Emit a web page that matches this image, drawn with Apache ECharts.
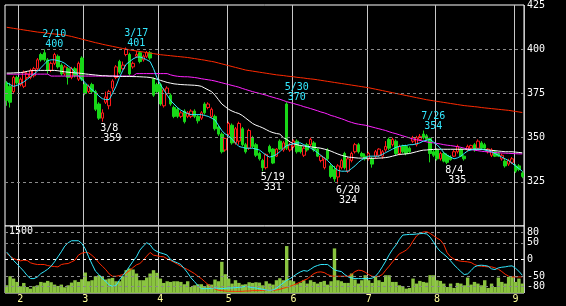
<!DOCTYPE html>
<html><head><meta charset="utf-8">
<script src="https://cdn.jsdelivr.net/npm/echarts@6/dist/echarts.min.js"></script>
<style>html,body{margin:0;padding:0;background:#000;}#c{width:566px;height:306px;}</style>
</head><body><div id="c"></div>
<script>
// trading days per month (2011, Tokyo calendar)
const monthDays = [
  [1, [26,27,28,31]],
  [2, [1,2,3,4,7,8,9,10,14,15,16,17,18,21,22,23,24,25,28]],
  [3, [1,2,3,4,7,8,9,10,11,14,15,16,17,18,22,23,24,25,28,29,30,31]],
  [4, [1,4,5,6,7,8,11,12,13,14,15,18,19,20,21,22,25,26,27,28]],
  [5, [2,6,9,10,11,12,13,16,17,18,19,20,23,24,25,26,27,30,31]],
  [6, [1,2,3,6,7,8,9,10,13,14,15,16,17,20,21,22,23,24,27,28,29,30]],
  [7, [1,4,5,6,7,8,11,12,13,14,15,19,20,21,22,25,26,27,28,29]],
  [8, [1,2,3,4,5,8,9,10,11,12,15,16,17,18,19,22,23,24,25,26,29,30,31]],
  [9, [1,2,5]]
];
// [open, close, low, high]
const ohlc = [
 [381,371,368,382],[379,370,367,381],[376,384,375,385],[384,381,380,385],[380,383,379,384],
 [379,387,378,388],[384,386,383,387],[384,388,383,389],[385,389,384,390],[389,394,388,395],
 [397,394,393,398],[398,394,393,400],[394,388,386,395],[388,392,387,393],[392,397,391,398],
 [396,390,389,397],[391,386,385,392],[386,390,385,391],[389,384,380,390],[384,389,383,390],
 [389,385,384,390],[383,392,382,393],[395,383,382,396],[380,375,374,381],[376,379,375,380],
 [380,376,375,381],[376,366,365,377],[369,361,360,370],[361,364,359,366],[370,373,369,376],
 [368,376,366,377],[378,382,376,383],[384,390,383,391],[393,387,386,394],[389,391,388,393],
 [397,400,396,401],[397,386,385,398],[390,392,389,393],[396,397,395,399],[398,393,392,399],
 [394,396,393,397],[396,398,395,399],[398,395,394,399],[383,374,373,384],[380,376,375,381],
 [380,369,368,381],[368,377,367,378],[375,378,374,379],[374,369,368,375],[367,362,361,368],
 [366,362,361,367],[362,364,361,365],[365,359,358,366],[362,364,361,365],[362,365,361,366],
 [365,362,361,366],[362,359.5,358,363],[361,364,360,365],[369,364,363,370],[367,369,366,370],
 [362,366,361,367],[362,355,354,363],[356,352,351,357],[352,342,341,353],[343,349.5,342,350],
 [352,358,351,359],[357,347,346,358],[347,355,346,356],[348,358,346,359],[355,346,345,356],
 [346,342,341,347],[344,354,343,355],[350,345,344,351],[346,340,339,347],[341,338,337,342],
 [337,333,331,338],[333,340.5,332,341],[345,342,341,346],[343.5,335.6,335,344],[339.5,343.5,339,344],
 [348,343.5,343,349],[343,347,342,348],[369,344,343,370],[343,346,342,347],[345,348,344,349],
 [348,342,341,349],[345,342,341,346],[340,344,339,345],[346,343,342,347],[346,349,345,350],
 [347,343,342,348],[343.5,339.5,339,344],[337,339.5,336,340],[333,338,332,339],[343,338,337,344],
 [334,328,327,335],[332,326.6,325,334],[327.7,334,324,335],[333,337,332,338],[341,333,332,342],
 [331,338,330,339],[337,341,336,342],[342,346,341,347],[346,342,341,347],[341,339.5,339,342],
 [339.5,338,337,341],[338,341,337,342],[338,335,333,339],[339.5,342,338,343],[340,343.5,339,344],
 [339.5,342,338,343],[343,345,342,348],[349,344,343,350],[346,349,345,350],[348,341,340,349],
 [341,345,340,346],[345,342,341,346],[345,341,340,346],[344,342,341,345],[348,350,347,351],
 [346,350,345,351],[349,350.7,348,352],[352,350,349,354],[351,349,348,352],[349.6,341,336,350],
 [342,340,339,343],[343,338,337,344],[338,341,337,342],[341,336.7,336,342],[340,336,335,341],
 [339,337.5,337,340],[339.5,342,339,343],[342,345,341,346],[343.5,339.5,339,344],[339.5,338,337,340],
 [343,345,342,346],[344,345.5,343,346],[346,343,342,347],[344,348,343,349],[347,344,343,348],
 [346,344,343,347],[342,343.5,341,344],[340,343,339,344],[342,339.5,339,343],[341,339.5,339,342],
 [338,340,337,341],[336.7,334,333,338],[335,337,334,338],[336,338,335,339],[334,331,330,335],
 [334,332,331,335],[330,328,327,331]
];
const maShort = [
 381,380,379,379.5,380.5,381.5,383,384.5,386,387.5,
 389.5,391.5,393.5,394,394,393.5,393,392,390.5,389,
 387,385,383,381,379,377,375.5,373.5,372,371.5,
 371.5,375,379,384,388,391.5,393,394.5,395.5,395.6,
 395,394,393,389,384,380,377,374,371,369,
 367,365.5,364.5,363.6,363,363,363,363,362.5,362,
 361,360,357,354,352,351,349,347,345,344.5,
 344,344,344,343.5,343,341.5,340,339,339.5,340.5,
 342,344,345.5,346,346.5,347,347,346,345,344,
 343,341.5,340,338.5,337,335,333,331.5,331,331,
 331,332.5,334,336,337.5,338.5,339.5,339.5,339.5,339.5,
 340.5,341.5,342.5,343.5,344.5,345,345.5,345.5,346,346,
 346.5,347,348,348.5,349,347.5,346,344,341.5,340,
 339,338,338.5,339.5,341,342.5,343,343.5,343.5,343.5,
 343,342.5,342,341,340,339,338,337,335.5,334,
 332.5,331
];
const maMid = [
 386.5,386.5,386.6,386.7,386.8,387,387.5,387.8,388,388,
 388,388,388,388,388,387.8,387.5,387.2,387,386.8,
 386.6,386.5,386.3,386,385.8,385.6,385.4,385.2,385,385,
 384.8,384.8,384.7,384.6,384.6,384.6,384.6,384.5,384.5,384.4,
 384.3,384.2,384,383.6,383,382.4,381.8,381.2,380.8,380.4,
 380.2,380,379.9,379.8,379.7,379.6,379.4,379,378,377,
 376,374,371.5,369,367.5,366,365,364.2,363.6,362.5,
 361,359.5,358,357,356.3,355.5,354.5,353.5,352.8,352.3,
 352,350,349,347.5,346.5,346,345.5,345.3,345,344.8,
 344.5,344.3,344,343.5,343,342.3,341.5,340.7,340,339.5,
 339,338.8,338.6,338.4,338.4,338.4,338.3,338.3,338.3,338.4,
 338.5,338.7,339,339.5,340,340.5,340.6,340.8,341,341.5,
 342,342.5,342.9,343,343.2,343.3,343.4,343.4,343.4,343.4,
 343.4,343.4,343.4,343.4,343.4,343.4,343.4,343.4,343.4,343.3,
 343.2,343,342.8,342.6,342.4,342.2,342,342,342,341.8,
 341.6,341.4
];
const maLong = [
 385.9,385.9,385.9,385.9,385.9,385.9,385.9,385.9,385.9,385.9,
 385.9,385.9,385.9,384.8,384.8,384.8,384.8,384.8,384.8,384.8,
 384.8,384.8,384.8,384.8,384.8,384.8,384.8,384.8,384.8,384.8,
 384.8,384.8,384.8,384.8,384.8,384.8,384.8,384.8,386.2,386.2,
 386.2,386.2,386.2,386.2,386.2,386.2,386.2,386.2,385.5,385,
 384.7,384.5,384.4,384.4,384.2,384,383.7,383.3,383,382.7,
 382.4,382,381.5,381,380.5,380,379.5,379,378.5,377.8,
 377.2,376.6,376,375.5,375,374.5,374,373.3,372.8,372.2,
 371.7,371,370.3,369.8,369.3,368.7,368.2,367.5,367,366.4,
 365.8,365.2,364.5,364,363.3,362.5,362,361.3,360.7,360,
 359.2,358.6,358,357.6,357.3,357,356.5,356,355.5,355,
 354.5,354,353.3,352.7,352.2,351.6,351,350.4,349.8,349.2,
 348.8,348.4,348,347.6,347.2,347,346.7,346.4,346,345.7,
 345.5,345.2,344.9,344.5,344,343.6,343.2,342.9,342.6,342.3,
 342.1,341.9,341.7,341.5,341.4,341.3,341.2,341.1,341,340.9,
 340.8,340.8
];
const maTrend = [
 412.4,412.1,411.8,411.5,411.2,410.9,410.6,410.3,410,409.7,
 409.5,409.3,409,408.8,408.6,408.4,408.2,408,407.6,407.2,
 406.7,406.2,405.7,405.2,404.7,404.2,403.7,403.3,402.8,402.4,
 402,401.6,401.2,400.8,400.4,400,399.6,399.3,399,398.7,
 398.4,398.1,397.8,397.5,397.2,396.9,396.7,396.5,396.3,396.1,
 395.9,395.7,395.5,395.3,395,394.7,394.4,394.1,393.8,393.4,
 393.1,392.7,392.2,391.7,391.2,390.7,390.2,389.7,389.2,388.7,
 388.2,387.9,387.6,387.3,387,386.7,386.4,386.1,385.8,385.5,
 385.3,385.1,384.8,384.6,384.4,384.1,383.9,383.7,383.4,383.2,
 383,382.7,382.4,382.1,381.8,381.5,381.2,380.9,380.6,380.3,
 380,379.7,379.4,379.1,378.8,378.5,378.2,377.8,377.4,377,
 376.6,376.2,375.8,375.4,375,374.6,374.2,373.8,373.4,373,
 372.6,372.2,371.8,371.4,371.1,370.8,370.5,370.2,369.9,369.6,
 369.3,369,368.7,368.4,368.1,367.9,367.7,367.5,367.3,367,
 366.8,366.6,366.4,366.2,366,365.8,365.6,365.4,365.1,364.8,
 364.5,364.2
];
const volume = [
 173,376,323,248,150,225,135,98,150,173,
 248,233,271,241,188,158,188,128,173,233,
 286,248,308,458,263,286,376,398,361,301,
 323,338,263,263,376,511,548,526,436,286,
 286,346,436,511,451,323,225,263,248,263,
 263,248,196,263,135,173,196,196,135,196,
 188,301,263,698,421,323,211,286,226,188,
 196,241,226,241,233,173,263,211,188,286,
 331,286,1051,286,263,196,233,286,211,286,
 248,211,248,271,188,263,998,286,263,226,
 226,436,301,211,286,398,286,226,361,286,
 248,398,398,248,248,173,150,98,113,323,
 211,271,248,233,398,398,286,271,211,135,
 211,113,226,211,173,346,188,248,211,173,
 286,113,211,135,346,248,211,361,361,248,
 323,211
];
const rciShort = [
 22,10,-3,-13,-24,-35,-48,-57,-57,-52,
 -42,-36,-29,-20,-7,8,23,40,50,56,
 56,56,48,32,8,-14,-35,-45,-57,-65,
 -76,-80,-78,-62,-48,-35,-20,-5,8,28,
 40,50,44,30,24,20,17,13,0,-6,
 -10,-15,-27,-40,-55,-66,-78,-87,-87,-87,
 -86,-85,-86,-87,-86,-85,-85,-84,-83,-82,
 -80,-82,-84,-85,-87,-89,-91,-92,-91,-86,
 -78,-70,-62,-57,-50,-43,-37,-33,-35,-29,
 -22,-18,-15,-15,-15,-23,-31,-34,-36,-45,
 -52,-55,-57,-57,-57,-57,-57,-56,-50,-38,
 -22,-5,14,30,43,60,73,74,75,75,
 76,77,78,76,67,52,36,24,16,7,
 -4,-16,-26,-36,-45,-43,-33,-22,-18,-17,
 -18,-20,-28,-30,-25,-23,-22,-20,-19,-26,
 -35,-47
];
const rciLong = [
 18,10,3,-1,-4,-2,-3,-10,-13,-15,
 -15,-15,-18,-20,-21,-22,-15,-13,-12,-7,
 -2,13,19,21,20,12,3,-10,-20,-30,
 -43,-50,-50,-48,-45,-40,-33,-24,-16,-12,
 -2,10,21,13,11,9,8,2,-3,-8,
 -14,-20,-25,-30,-36,-42,-50,-57,-66,-75,
 -82,-88,-92,-93,-94,-95,-95,-95,-95,-95,
 -94,-94,-93,-93,-93,-92,-92,-92,-92,-91,
 -89,-86,-83,-80,-76,-72,-67,-62,-58,-50,
 -42,-38,-37,-39,-45,-49,-50,-50,-50,-50,
 -50,-45,-36,-32,-33,-38,-45,-50,-51,-50,
 -45,-32,-20,-7,5,17,22,28,38,55,
 70,78,82,83,78,71,64,58,45,20,
 8,1,-3,-5,-6,-7,-9,-15,-19,-20,
 -21,-22,-22,-25,-29,-36,-44,-50,-52,-52,
 -52,-52
];
const peakDates = ['2/10','3/17','5/30','7/26'];
const peakValues = [400,401,370,354];
const troughDates = ['3/8','5/19','6/20','8/4'];
const troughValues = [359,331,324,335];
const priceGridLines = [325,350,375,400];
const oscGridLines = [80,50,-50,-80];
const oscZeroLine = [0];
const volumeTickLabels = [1500];

// build categories
const dates = [], months = [];
monthDays.forEach(([m, days]) => days.forEach(d => { dates.push(m + '/' + d); months.push(m); }));
const isMonthStart = i => i > 0 && months[i] !== months[i - 1];

const FONT = 'DejaVu Sans Mono';
const CYAN = '#33e8ff', RED = '#ff2a00', MAG = '#ff22ff', GREEN = '#18d818';

function richLabel(color, pos) {
  return {
    show: true, position: pos, distance: 0, align: 'left',
    offset: [-2, 1],
    formatter: p => '{d|' + p.name + '}\n{v|' + p.value + '}',
    rich: {
      d: { color: color, fontFamily: FONT, fontSize: 10, lineHeight: 10 },
      v: { color: color, fontFamily: FONT, fontSize: 10, lineHeight: 10, padding: [0, 0, 0, 3] }
    }
  };
}
const axisText = { color: '#fff', fontFamily: FONT, fontSize: 10 };

const chart = echarts.init(document.getElementById('c'), null, { renderer: 'canvas' });
const xCommon = {
  type: 'category', data: dates, boundaryGap: true,
  axisLine: { show: false }, axisTick: { show: false },
  splitLine: { show: true, interval: (i) => isMonthStart(i), lineStyle: { color: '#c8c8c8', width: 1 } }
};
chart.setOption({
  backgroundColor: '#000',
  animation: false,
  grid: [
    { left: 5, right: 42, top: 2, height: 224, show: true, backgroundColor: '#000', borderColor: '#fff', borderWidth: 1 },
    { left: 5, right: 42, top: 226, height: 67, show: true, backgroundColor: '#000', borderColor: '#fff', borderWidth: 1 }
  ],
  xAxis: [
    Object.assign({}, xCommon, { gridIndex: 0, axisLabel: { show: false } }),
    Object.assign({}, xCommon, { gridIndex: 1, axisLabel: {
      show: true, interval: (i) => isMonthStart(i), formatter: v => v.split('/')[0],
      color: '#ffff99', fontFamily: FONT, fontSize: 10, margin: 1 } })
  ],
  yAxis: [
    { type: 'value', gridIndex: 0, position: 'right', min: 300, max: 425, interval: 25,
      axisLine: { show: false }, axisTick: { show: false }, splitLine: { show: false },
      axisLabel: Object.assign({ margin: 3, formatter: v => v === 300 ? '' : String(v) }, axisText) },
    { type: 'value', gridIndex: 1, position: 'right', min: -100, max: 100,
      axisLine: { show: false }, axisTick: { show: false }, splitLine: { show: false },
      axisLabel: { show: false } },
    { type: 'value', gridIndex: 1, position: 'left', min: 0, max: 1500,
      axisLine: { show: false }, axisTick: { show: false }, splitLine: { show: false },
      axisLabel: { inside: true, color: '#fff', fontFamily: FONT, fontSize: 10, margin: 4, verticalAlign: 'top',
        customValues: volumeTickLabels, formatter: v => String(v) } }
  ],
  series: [
    { type: 'line', xAxisIndex: 0, yAxisIndex: 0, data: [], z: 1, silent: true,
      markLine: { symbol: ['none', 'none'], silent: true, animation: false, label: { show: false },
        lineStyle: { color: '#8a8a8a', type: [3, 3], width: 1 },
        data: priceGridLines.map(v => ({ yAxis: v })) } },
    { type: 'line', xAxisIndex: 1, yAxisIndex: 1, data: [], z: 1, silent: true,
      markLine: { symbol: ['none', 'none'], silent: true, animation: false,
        label: Object.assign({ show: true, position: 'end', distance: 3, formatter: p => String(p.value) }, axisText),
        lineStyle: { color: '#8a8a8a', type: [3, 3], width: 1 },
        data: oscGridLines.map(v => ({ yAxis: v })).concat(oscZeroLine.map(v => ({ yAxis: v, lineStyle: { color: '#fff', type: [3, 3], width: 1 } }))) } },
    { type: 'candlestick', xAxisIndex: 0, yAxisIndex: 0, data: ohlc, barWidth: 3, z: 2,
      itemStyle: { color: '#000', color0: GREEN, borderColor: '#ff1a1a', borderColor0: GREEN, borderWidth: 1 },
      markPoint: {
        symbol: 'rect', symbolSize: 1, silent: true, animation: false,
        itemStyle: { color: 'rgba(0,0,0,0)' },
        data: peakDates.map((d, k) => ({ name: d, coord: [d, peakValues[k]], value: peakValues[k], label: richLabel(CYAN, 'top') }))
          .concat(troughDates.map((d, k) => ({ name: d, coord: [d, troughValues[k]], value: troughValues[k], label: richLabel('#fff', 'bottom') })))
      } },
    { type: 'line', xAxisIndex: 0, yAxisIndex: 0, data: maTrend, symbol: 'none', z: 3, lineStyle: { color: RED, width: 1 } },
    { type: 'line', xAxisIndex: 0, yAxisIndex: 0, data: maLong, symbol: 'none', z: 3, lineStyle: { color: MAG, width: 1 } },
    { type: 'line', xAxisIndex: 0, yAxisIndex: 0, data: maMid, symbol: 'none', z: 3, lineStyle: { color: '#fff', width: 1 } },
    { type: 'line', xAxisIndex: 0, yAxisIndex: 0, data: maShort, symbol: 'none', z: 3, lineStyle: { color: CYAN, width: 1 } },
    { type: 'bar', xAxisIndex: 1, yAxisIndex: 2, data: volume, barCategoryGap: '0%', z: 2,
      itemStyle: { color: '#8ac440' } },
    { type: 'line', xAxisIndex: 1, yAxisIndex: 1, data: rciLong, symbol: 'none', z: 3, lineStyle: { color: RED, width: 1 } },
    { type: 'line', xAxisIndex: 1, yAxisIndex: 1, data: rciShort, symbol: 'none', z: 3, lineStyle: { color: CYAN, width: 1 } }
  ]
});
</script>
</body></html>
